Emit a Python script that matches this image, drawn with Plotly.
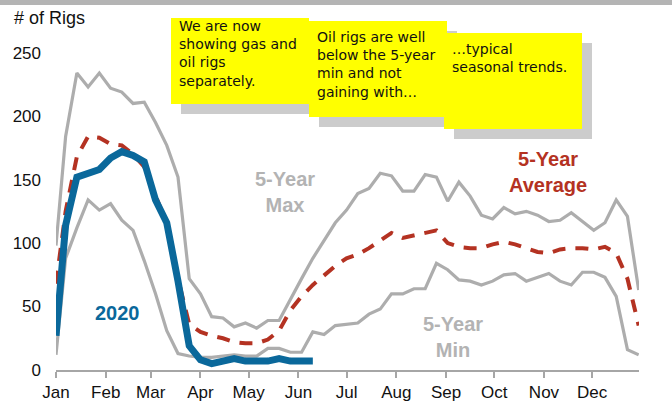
import plotly.graph_objects as go
import pandas as pd

# ---- data (weekly points, day offset from Jan 1) ----
day_offsets = [0] + [6 + 7 * k for k in range(52)]
five_year_max = [98, 184, 234, 223, 234, 222, 219, 210, 211, 195, 177, 152, 72, 60, 42, 41, 34, 37, 33, 39,
                 39, 56, 72, 88, 102, 116, 126, 139, 143, 155, 153, 141, 141, 154, 152, 133, 148, 137, 122, 119,
                 128, 123, 125, 122, 117, 118, 124, 117, 110, 116, 134, 121, 63]
five_year_avg = [68, 125, 168, 184, 183, 178, 177, 170, 160, 138, 115, 72, 36, 30, 27, 25, 22, 21, 21, 24,
                 31, 47, 58, 67, 75, 82, 88, 91, 96, 102, 108, 104, 106, 108, 110, 100, 97, 96, 96, 99,
                 101, 99, 96, 93, 92, 95, 96, 96, 95, 97, 92, 72, 35]
five_year_min = [12, 88, 112, 134, 126, 131, 118, 110, 86, 60, 31, 13, 11, 10, 10, 11, 12, 11, 11, 17,
                 17, 14, 14, 30, 28, 35, 36, 37, 44, 48, 60, 60, 64, 64, 84, 79, 71, 70, 67, 70,
                 75, 76, 70, 73, 76, 70, 67, 77, 77, 73, 58, 16, 12]
rigs_2020 = [27, 114, 152, 155, 158, 167, 172, 169, 164, 134, 116, 70, 19, 8, 5, 7, 9, 7, 7, 7,
             9, 7, 7, 7]

y_ticks = [0, 50, 100, 150, 200, 250]

base = pd.Timestamp("2019-01-01")
dates = [base + pd.Timedelta(days=d) for d in day_offsets]

GRAY = "#adadad"
RED = "#b43222"
BLUE = "#0a689b"

fig = go.Figure()
fig.add_trace(go.Scatter(x=dates, y=five_year_max, mode="lines",
                         line=dict(color=GRAY, width=3.2), hoverinfo="skip"))
fig.add_trace(go.Scatter(x=dates, y=five_year_min, mode="lines",
                         line=dict(color=GRAY, width=3.2), hoverinfo="skip"))
fig.add_trace(go.Scatter(x=dates, y=five_year_avg, mode="lines",
                         line=dict(color=RED, width=4, dash="13px,10px"), hoverinfo="skip"))
fig.add_trace(go.Scatter(x=dates[:len(rigs_2020)], y=rigs_2020, mode="lines",
                         line=dict(color=BLUE, width=7), hoverinfo="skip"))

W, H = 672, 402
L, R, T, B = 56, 33, 40, 32
PW, PH = W - L - R, H - T - B


def px(x):
    return (x - L) / PW


def py(y):
    return (H - B - y) / PH


shapes = []
# top gray band
shapes.append(dict(type="rect", xref="paper", yref="paper", x0=px(0), x1=px(W), y0=py(5), y1=py(0),
                   fillcolor="#b4b4b4", line=dict(width=0), layer="above"))
# sticky notes: (x0, y0, x1, y1) in pixels, plus text top padding
notes = [(171, 18, 309, 104), (309, 21, 447, 117), (444, 33, 582, 129)]
text_pad = [-2, 6, 6]
for (x0, y0, x1, y1) in notes:
    shapes.append(dict(type="rect", xref="paper", yref="paper", x0=px(x0 + 10), x1=px(x1 + 10),
                       y0=py(y1 + 10), y1=py(y0 + 10), fillcolor="#cccccc", line=dict(width=0), layer="above"))
    shapes.append(dict(type="rect", xref="paper", yref="paper", x0=px(x0), x1=px(x1),
                       y0=py(y1), y1=py(y0), fillcolor="#ffff00", line=dict(width=0), layer="above"))

note_font = dict(family="Comic Sans MS, DejaVu Sans, sans-serif", size=14, color="#111111")
note_texts = ["We are now<br>showing gas and<br>oil rigs<br>separately.",
              "Oil rigs are well<br>below the 5-year<br>min and not<br>gaining with…",
              "…typical<br>seasonal trends."]
annotations = []
for (x0, y0, x1, y1), pad, t in zip(notes, text_pad, note_texts):
    annotations.append(dict(xref="paper", yref="paper", x=px(x0 + 6), y=py(y0 + pad), text=t,
                            xanchor="left", yanchor="top", align="left", showarrow=False, font=note_font))

lab_font = "Arial, Liberation Sans, sans-serif"


def label(x, y, text, color, size=20, xanchor="center"):
    return dict(xref="paper", yref="paper", x=px(x), y=py(y), text=text, showarrow=False,
                xanchor=xanchor, yanchor="middle", align="center",
                font=dict(family=lab_font, size=size, color=color))


annotations += [
    label(12, 18, "# of Rigs", "#111111", size=18, xanchor="left"),
    label(285, 191.5, "<b>5-Year<br>Max</b>", "#b3b3b3"),
    label(548, 172, "<b>5-Year<br>Average</b>", RED),
    label(453, 336.5, "<b>5-Year<br>Min</b>", "#b3b3b3"),
    label(117, 313, "<b>2020</b>", BLUE),
]

fig.update_layout(
    width=W, height=H, margin=dict(l=L, r=R, t=T, b=B, autoexpand=False),
    paper_bgcolor="white", plot_bgcolor="white", showlegend=False,
    shapes=shapes, annotations=annotations,
    font=dict(family=lab_font, size=17, color="#111111"),
)
fig.update_xaxes(type="date", range=[base, base + pd.Timedelta(hours=363.2 * 24)],
                 tickformat="%b", dtick="M1", tick0="2019-01-01", automargin=False,
                 showgrid=False, zeroline=False, showline=True, linecolor="#a6a6a6", linewidth=1.5,
                 ticks="outside", ticklen=6, tickcolor="#a6a6a6", tickwidth=1.5,
                 tickfont=dict(family=lab_font, size=17, color="#111111"))
fig.update_yaxes(range=[0, 260], tickvals=y_ticks, showgrid=False, zeroline=False, showline=False,
                 ticks="", ticklabelstandoff=14, automargin=False,
                 tickfont=dict(family=lab_font, size=17, color="#111111"))

fig.write_html("out.html", config={"displayModeBar": False},
               post_script="document.body.style.margin='0';document.body.style.overflow='hidden';")
